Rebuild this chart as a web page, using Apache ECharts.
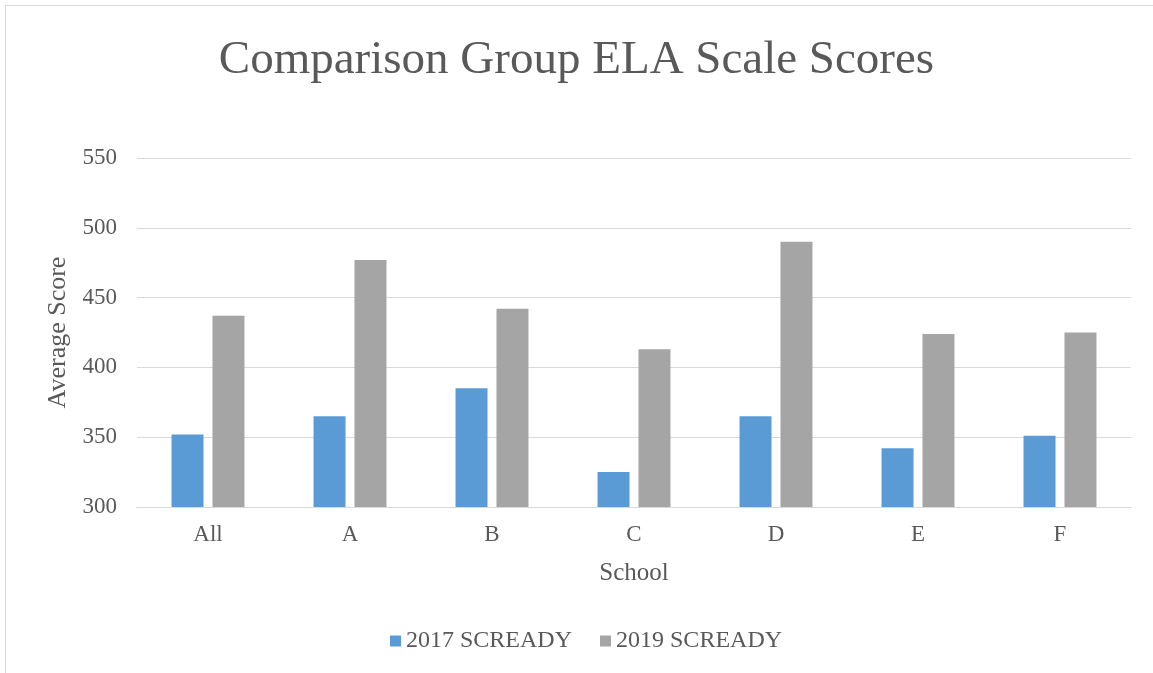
<!DOCTYPE html>
<html>
<head>
<meta charset="utf-8">
<script src="https://cdn.jsdelivr.net/npm/echarts@6/dist/echarts.min.js"></script>
<style>
  html, body { margin: 0; padding: 0; background: #fff; }
  #chart { width: 1153px; height: 673px; }
</style>
</head>
<body>
<div id="chart"></div>
<script>
// Données
const schools = ['All', 'A', 'B', 'C', 'D', 'E', 'F'];
const scores2017 = [352, 365, 385, 325, 365, 342, 351];
const scores2019 = [437, 477, 442, 413, 490, 424, 425];
const yTicks = [300, 350, 400, 450, 500, 550];

const serif = '"Liberation Serif", "Times New Roman", serif';
const textColor = '#595959';

const chart = echarts.init(document.getElementById('chart'));

const option = {
  backgroundColor: '#fff',
  animation: false,
  graphic: [{
    type: 'rect',
    shape: { x: 5.5, y: 5.5, width: 1160, height: 680 },
    style: { fill: 'none', stroke: '#d9d9d9', lineWidth: 1 },
    silent: true
  }],
  title: {
    text: 'Comparison Group ELA Scale Scores',
    left: 'center',
    top: 32,
    textStyle: { fontFamily: serif, fontSize: 47, fontWeight: 'normal', color: textColor }
  },
  legend: {
    bottom: 15,
    left: 385,
    itemWidth: 11,
    itemHeight: 11,
    itemGap: 28,
    icon: 'rect',
    textStyle: { fontFamily: serif, fontSize: 24, color: textColor, padding: [0, 0, 0, 0] },
    data: ['2017 SCREADY', '2019 SCREADY']
  },
  grid: { left: 137, right: 22, top: 158, bottom: 166 },
  xAxis: {
    type: 'category',
    data: schools,
    name: 'School',
    nameLocation: 'middle',
    nameGap: 54,
    nameTextStyle: { fontFamily: serif, fontSize: 25, color: textColor },
    axisLine: { show: true, lineStyle: { color: '#d9d9d9', width: 1 } },
    axisTick: { show: false },
    axisLabel: { fontFamily: serif, fontSize: 23, color: textColor, margin: 16 }
  },
  yAxis: {
    type: 'value',
    min: yTicks[0],
    max: yTicks[yTicks.length - 1],
    interval: 50,
    name: 'Average Score',
    nameLocation: 'middle',
    nameGap: 64,
    nameTextStyle: { fontFamily: serif, fontSize: 26, color: textColor },
    axisLine: { show: false },
    axisTick: { show: false },
    axisLabel: { fontFamily: serif, fontSize: 23, color: textColor, margin: 20 },
    splitLine: { lineStyle: { color: '#d9d9d9', width: 1 } }
  },
  series: [
    {
      name: '2017 SCREADY',
      type: 'bar',
      data: scores2017,
      barWidth: 32,
      barGap: '28%',
      itemStyle: { color: '#5b9bd5' }
    },
    {
      name: '2019 SCREADY',
      type: 'bar',
      data: scores2019,
      barWidth: 32,
      barGap: '28%',
      itemStyle: { color: '#a5a5a5' }
    }
  ]
};

chart.setOption(option);
</script>
</body>
</html>
